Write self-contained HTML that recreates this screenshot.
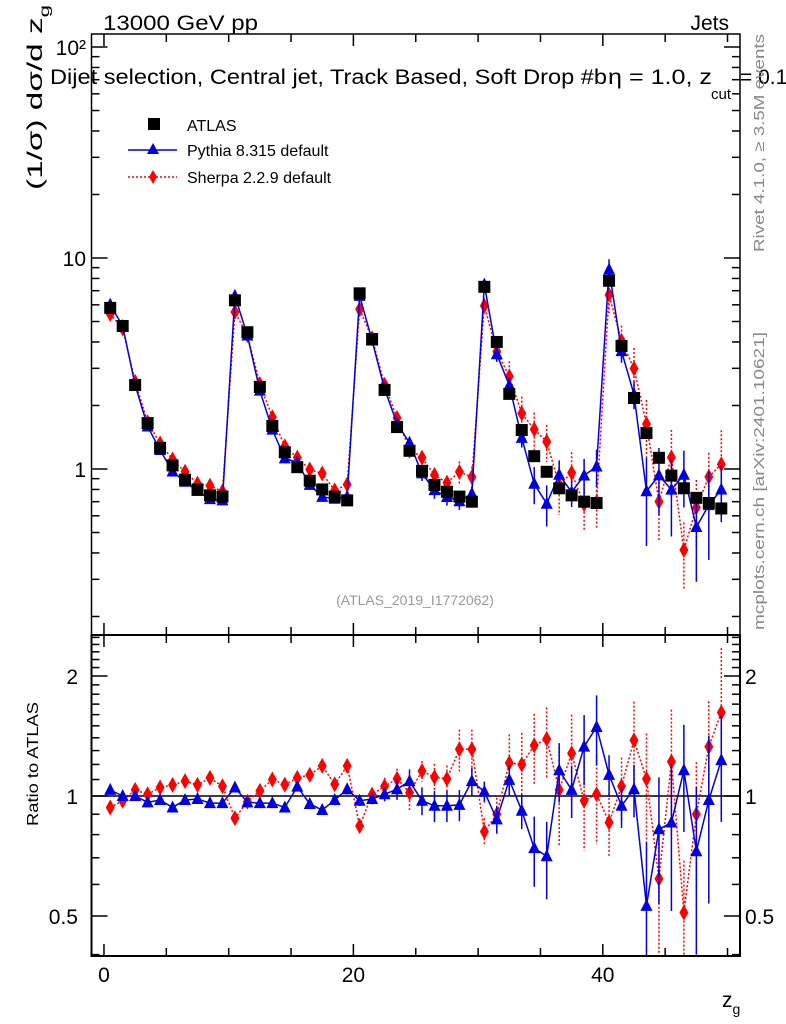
<!DOCTYPE html>
<html><head><meta charset="utf-8">
<style>
body{margin:0;background:#fff;}
svg{display:block;font-family:"Liberation Sans",sans-serif;}
</style></head>
<body>
<svg id="chart" width="786" height="1024" viewBox="0 0 786 1024" xmlns="http://www.w3.org/2000/svg">
<text x="103" y="30" font-size="21" textLength="155" lengthAdjust="spacingAndGlyphs">13000 GeV pp</text>
<text x="729" y="30" font-size="21" text-anchor="end">Jets</text>
<text x="50" y="84" font-size="21" textLength="557" lengthAdjust="spacingAndGlyphs">Dijet selection, Central jet, Track Based, Soft Drop #b</text>
<text x="608" y="84" font-size="21" textLength="104" lengthAdjust="spacingAndGlyphs">η = 1.0, z</text>
<text x="711" y="99" font-size="15">cut</text>
<text x="740" y="84" font-size="21">= 0.1</text>
<text transform="translate(42,190) rotate(-90)" font-size="21" textLength="185" lengthAdjust="spacingAndGlyphs">(1/σ) dσ/d z<tspan font-size="14" dy="7">g</tspan></text>
<text transform="translate(38,826) rotate(-90)" font-size="16" textLength="124" lengthAdjust="spacingAndGlyphs">Ratio to ATLAS</text>
<text transform="translate(764,252) rotate(-90)" font-size="15" fill="#888" textLength="218" lengthAdjust="spacingAndGlyphs">Rivet 4.1.0, ≥ 3.5M events</text>
<text transform="translate(764,630) rotate(-90)" font-size="15" fill="#888" textLength="298" lengthAdjust="spacingAndGlyphs">mcplots.cern.ch [arXiv:2401.10621]</text>
<text x="415" y="605" font-size="14" fill="#999" text-anchor="middle">(ATLAS_2019_I1772062)</text>
<text x="722" y="1007" font-size="21">z<tspan font-size="14" dy="7">g</tspan></text>
<g id="legend">
<rect x="148" y="118" width="12" height="12" fill="#000"/>
<text x="187" y="131" font-size="16">ATLAS</text>
<line x1="128" y1="150" x2="177" y2="150" stroke="#0000e0" stroke-width="1.5"/>
<polygon points="153,143 159,154 147,154" fill="#0000e0"/>
<text x="187" y="156" font-size="16">Pythia 8.315 default</text>
<line x1="128" y1="177" x2="177" y2="177" stroke="red" stroke-width="1.5" stroke-dasharray="2,2"/>
<polygon points="153,170 157,177 153,184 149,177" fill="red"/>
<text x="187" y="183" font-size="16">Sherpa 2.2.9 default</text>
</g>
<g id="plot"></g>
</svg>
<script>
const atlasValues=[5.8,4.76,2.5,1.65,1.26,1.04,0.89,0.8,0.75,0.74,6.3,4.45,2.45,1.6,1.2,1.02,0.88,0.8,0.74,0.71,6.8,4.13,2.37,1.58,1.22,0.98,0.84,0.78,0.74,0.7,7.3,4.0,2.27,1.53,1.15,0.97,0.81,0.75,0.7,0.69,7.8,3.83,2.17,1.48,1.13,0.93,0.81,0.73,0.69,0.65];
const pythiaRatio=[1.036,1.0,1.0,0.964,0.977,0.936,0.977,0.983,0.96,0.96,1.05,0.964,0.96,0.96,0.936,1.056,0.955,0.922,0.977,1.04,0.973,0.983,1.01,1.04,1.09,0.973,0.945,0.945,0.95,1.09,1.025,0.874,1.098,0.918,0.74,0.706,1.16,1.036,1.33,1.49,1.13,0.945,1.04,0.53,0.825,0.858,1.16,0.727,0.977,1.23];
const pythiaErr=[0.01,0.01,0.01,0.01,0.01,0.01,0.01,0.01,0.01,0.01,0.01,0.01,0.01,0.01,0.015,0.015,0.02,0.02,0.03,0.03,0.03,0.03,0.04,0.06,0.07,0.08,0.09,0.09,0.09,0.08,0.06,0.08,0.09,0.1,0.2,0.22,0.17,0.15,0.2,0.2,0.12,0.12,0.15,0.45,0.35,0.4,0.3,0.45,0.45,0.3];
const sherpaRatio=[0.936,0.973,1.036,1.01,1.05,1.066,1.09,1.066,1.11,1.058,0.88,0.968,1.03,1.1,1.068,1.11,1.13,1.19,1.07,1.19,0.841,1.008,1.058,1.104,1.02,1.155,1.115,1.104,1.31,1.31,0.814,0.9,1.21,1.2,1.34,1.39,1.036,1.28,0.973,1.01,0.858,1.058,1.38,1.104,0.62,1.22,0.51,0.9,1.33,1.62];
const sherpaErr=[0.01,0.01,0.01,0.01,0.01,0.01,0.01,0.01,0.01,0.01,0.01,0.01,0.015,0.015,0.02,0.03,0.03,0.03,0.04,0.04,0.04,0.04,0.05,0.06,0.1,0.06,0.08,0.08,0.12,0.12,0.08,0.1,0.18,0.2,0.2,0.2,0.28,0.25,0.25,0.25,0.18,0.18,0.25,0.3,0.35,0.35,0.35,0.35,0.3,0.45];
const xTicks=[0,20,40];
const mainTicks=[{v:1,l:"1"},{v:10,l:"10"},{v:100,l:"10²"}];
const ratioTicks=[0.5,1,2];

const NS="http://www.w3.org/2000/svg";
const g=document.getElementById('plot');
const L=91.5,R=740,MT=34,MB=635,RT=635,RB=956;
const X=x=>L+(x+1)*(R-L)/52;
const YM=v=>469-211*Math.log10(v);
const YR=r=>796-398.6*Math.log10(r);
function el(t,a,p){const e=document.createElementNS(NS,t);for(const k in a)e.setAttribute(k,a[k]);(p||g).appendChild(e);return e;}

// frames
const f1=el('rect',{x:L,y:MT,width:R-L,height:MB-MT,fill:'none',stroke:'#000','stroke-width':1.5});


const f2=el('rect',{x:L,y:RT,width:R-L,height:RB-RT,fill:'none',stroke:'#000','stroke-width':2});



// x ticks
for(let x=0;x<=50;x+=5){
  const big=(x%20===0)?12:8;
  [[MT,1],[MB,-1],[RT,1],[RB,-1]].forEach(([y0,d])=>{
    const t=el('line',{x1:X(x),x2:X(x),y1:y0,y2:y0+d*(x%10===0?big:8),stroke:'#000','stroke-width':1.5});
    
    
  });
}
xTicks.forEach(x=>{
  const t=el('text',{x:X(x),y:982,'font-size':21,'text-anchor':'middle'});t.textContent=x;
  
  
});
// main y ticks
for(let d=-1;d<=2;d++){for(let m=1;m<=9;m++){const v=m*Math.pow(10,d);const y=YM(v);if(y<MT||y>MB)continue;
  const len=m===1?16:8;
  [[L,1],[R,-1]].forEach(([x0,s])=>{const t=el('line',{x1:x0,x2:x0+s*len,y1:y,y2:y,stroke:'#000','stroke-width':1.5});
  
  });
}}
mainTicks.forEach(o=>{const t=el('text',{x:86,y:YM(o.v)+8,'font-size':21,'text-anchor':'end'});t.textContent=o.l;
  
  });
// ratio y ticks
for(let r=0.4;r<=2.55;r+=0.1){const y=YR(r);if(y<RT||y>RB)continue;
  const maj=Math.abs(r-0.5)<1e-6||Math.abs(r-1)<1e-6||Math.abs(r-2)<1e-6;
  [[L,1],[R,-1]].forEach(([x0,s])=>{const t=el('line',{x1:x0,x2:x0+s*(maj?16:8),y1:y,y2:y,stroke:'#000','stroke-width':1.5});
  
  });
}
ratioTicks.forEach(r=>{
  const t=el('text',{x:78,y:YR(r)+8,'font-size':21,'text-anchor':'end'});t.textContent=r;
  
  
  const t2=el('text',{x:745,y:YR(r)+8,'font-size':21});t2.textContent=r;
  
  
});
const one=el('line',{x1:L,x2:R,y1:YR(1),y2:YR(1),stroke:'#000','stroke-width':1.5});



function clipY(y,t,b){return Math.max(t,Math.min(b,y));}
function series(vals,errs,Y,T,B,color,dash,marker,name){
  const pts=vals.map((v,i)=>[X(i+0.5),Y(v)]);
  const pl=el('polyline',{points:pts.map(p=>p.join(',')).join(' '),fill:'none',stroke:color,'stroke-width':1.5,'stroke-dasharray':dash||'none'});
  
  
  vals.forEach((v,i)=>{
    const x=X(i+0.5);
    const y1=clipY(Y(v*(1+errs[i])),T,B),y2=clipY(Y(Math.max(v*(1-errs[i]),1e-3)),T,B);
    const e=el('line',{x1:x,x2:x,y1:y1,y2:y2,stroke:color,'stroke-width':1.5,'stroke-dasharray':dash||'none'});
    
    
    const y=Y(v);if(y<T||y>B)return;
    let m;
    if(marker==='tri')m=el('polygon',{points:`${x},${y-7} ${x+6},${y+5} ${x-6},${y+5}`,fill:color});
    else m=el('polygon',{points:`${x},${y-8} ${x+4.5},${y} ${x},${y+8} ${x-4.5},${y}`,fill:color});
    
    
  });
}
const pyth=atlasValues.map((v,i)=>v*pythiaRatio[i]);
const sher=atlasValues.map((v,i)=>v*sherpaRatio[i]);
series(sher,sherpaErr,YM,MT,MB,'red','2,2','dia','sherpa');
series(pyth,pythiaErr,YM,MT,MB,'#0000e0',null,'tri','pythia');
atlasValues.forEach((v,i)=>{const r=el('rect',{x:X(i+0.5)-6,y:YM(v)-6,width:12,height:12,fill:'#000'});
  
  });
series(sherpaRatio,sherpaErr,YR,RT,RB,'red','2,2','dia','sherpa-ratio');
series(pythiaRatio,pythiaErr,YR,RT,RB,'#0000e0',null,'tri','pythia-ratio');
</script>
</body></html>
